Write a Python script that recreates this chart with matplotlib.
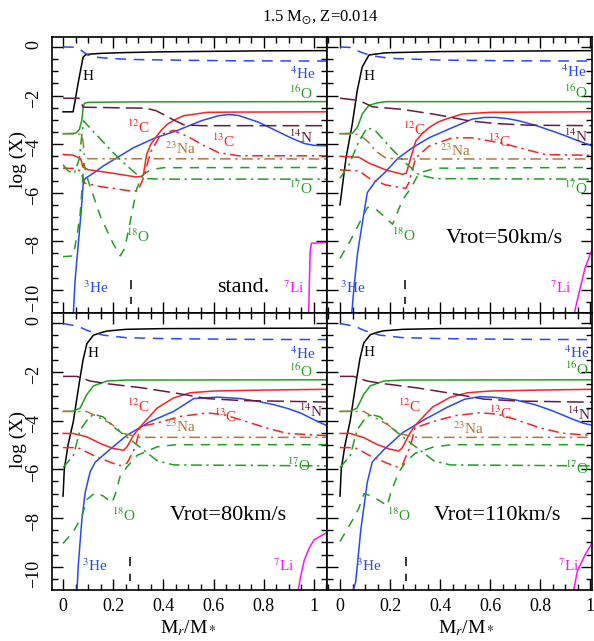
import numpy as np
import matplotlib
matplotlib.use("Agg")
import matplotlib.pyplot as plt
from matplotlib.ticker import MultipleLocator, FuncFormatter

plt.rcParams["font.family"] = ["Liberation Serif", "DejaVu Serif"]
plt.rcParams["mathtext.fontset"] = "stix"

# ── abundance profiles, log X vs Mr/M* ─────────────────────────
# standard model
STAND = {
    "H":    ([0, 0.04, 0.05, 0.06, 0.07, 0.08, 0.09, 0.11, 0.16, 0.25, 0.4, 0.6, 0.8, 1.05],
             [-2.67, -2.67, -2.1, -1.5, -0.95, -0.42, -0.32, -0.29, -0.26, -0.23, -0.2, -0.18, -0.16, -0.15]),
    "He4":  ([0, 0.05, 0.065, 0.08, 0.1, 0.13, 0.2, 0.3, 0.5, 0.7, 1.05],
             [0, -0.01, -0.08, -0.2, -0.33, -0.42, -0.48, -0.52, -0.55, -0.57, -0.58]),
    "He3":  ([0.04, 0.048, 0.06, 0.072, 0.081, 0.09, 0.12, 0.16, 0.207, 0.28, 0.368, 0.45, 0.55, 0.62, 0.66,
              0.7, 0.78, 0.85, 0.91, 0.96, 1.0, 1.05],
             [-11.2, -9.6, -8.2, -6.8, -5.54, -5.4, -5.2, -4.9, -4.61, -4.15, -3.74, -3.46, -3.04, -2.83, -2.78,
              -2.82, -3.1, -3.45, -3.75, -3.97, -4.05, -4.07]),
    "O16":  ([0, 0.05, 0.065, 0.075, 0.08, 0.085, 0.1, 0.3, 1.05],
             [-3.57, -3.55, -3.4, -3.0, -2.5, -2.32, -2.28, -2.26, -2.25]),
    "C12":  ([0, 0.04, 0.07, 0.08, 0.1, 0.2, 0.29, 0.31, 0.32, 0.333, 0.35, 0.368, 0.39, 0.415, 0.45, 0.481,
              0.575, 0.7, 1.05],
             [-4.43, -4.45, -4.6, -4.95, -5.05, -5.2, -5.35, -5.33, -5.27, -4.43, -4.0, -3.74, -3.45, -3.18, -2.97,
              -2.83, -2.69, -2.68, -2.67]),
    "C13":  ([0, 0.04, 0.07, 0.085, 0.15, 0.22, 0.28, 0.3, 0.32, 0.35, 0.39, 0.44, 0.5, 0.56, 0.62, 0.7, 1.05],
             [-4.99, -5.0, -5.1, -5.6, -5.75, -5.85, -5.95, -5.9, -5.4, -4.3, -3.6, -3.43, -3.7, -4.05, -4.35,
              -4.48, -4.48]),
    "N14":  ([0, 0.065, 0.08, 0.2, 0.33, 0.37, 0.4, 0.44, 0.48, 0.55, 1.05],
             [-2.11, -2.11, -2.48, -2.5, -2.52, -2.62, -2.78, -3.0, -3.2, -3.24, -3.24]),
    "Na23": ([0, 0.075, 0.08, 0.085, 0.1, 1.05],
             [-3.57, -3.6, -3.9, -4.5, -4.6, -4.61]),
    "O17":  ([0, 0.02, 0.045, 0.065, 0.075, 0.082, 0.1, 0.15, 0.2, 0.25, 0.3, 0.33, 0.4, 1.05],
             [-4.85, -5.1, -5.2, -4.6, -3.6, -3.04, -3.25, -3.8, -4.35, -4.85, -5.3, -5.42, -5.44, -5.44]),
    "O18":  ([0, 0.04, 0.055, 0.068, 0.078, 0.083, 0.1, 0.15, 0.2, 0.228, 0.245, 0.26, 0.275, 0.295, 0.32,
              0.35, 0.4, 1.05],
             [-8.63, -8.6, -7.8, -6.9, -5.5, -4.8, -5.5, -7.0, -8.1, -8.6, -8.3, -7.6, -6.8, -5.8, -5.25,
              -5.05, -4.97, -4.96]),
    "Li7":  ([0.978, 0.981, 0.985, 0.99, 1.05],
             [-11.5, -10.0, -8.4, -8.08, -8.05]),
}

# Vrot = 50 km/s
V50 = {
    "H":    ([0, 0.024, 0.049, 0.069, 0.089, 0.116, 0.183, 0.4, 0.7, 1.01],
             [-6.5, -4.57, -3.18, -1.79, -0.82, -0.33, -0.24, -0.19, -0.17, -0.15]),
    "He4":  ([0, 0.04, 0.08, 0.12, 0.2, 0.4, 0.7, 1.01],
             [0, -0.02, -0.2, -0.35, -0.47, -0.54, -0.57, -0.58]),
    "He3":  ([0.045, 0.055, 0.07, 0.09, 0.109, 0.14, 0.183, 0.23, 0.289, 0.356, 0.449, 0.529, 0.58, 0.623,
              0.67, 0.716, 0.78, 0.849, 0.9, 0.956, 1.01],
             [-11.2, -10.0, -8.5, -7.2, -6.0, -5.55, -5.13, -4.6, -4.15, -3.74, -3.32, -2.97, -2.9, -2.9,
              -2.95, -3.04, -3.22, -3.46, -3.65, -3.875, -4.08]),
    "O16":  ([0, 0.05, 0.07, 0.089, 0.116, 0.15, 0.183, 0.3, 1.01],
             [-3.57, -3.55, -3.3, -2.76, -2.4, -2.3, -2.25, -2.25, -2.25]),
    "C12":  ([0, 0.076, 0.116, 0.183, 0.249, 0.265, 0.283, 0.303, 0.33, 0.356, 0.39, 0.423, 0.489, 0.6, 1.01],
             [-4.5, -4.54, -4.78, -5.06, -5.24, -5.2, -4.57, -3.875, -3.55, -3.32, -3.1, -2.97, -2.76, -2.69,
              -2.67]),
    "C13":  ([0, 0.076, 0.116, 0.183, 0.263, 0.275, 0.303, 0.356, 0.449, 0.529, 0.649, 0.743, 0.823, 1.01],
             [-5.06, -5.1, -5.4, -5.68, -5.82, -5.6, -4.57, -4.08, -3.74, -3.74, -3.96, -4.22, -4.43, -4.46]),
    "N14":  ([0, 0.076, 0.129, 0.249, 0.383, 0.516, 0.62, 0.75, 1.01],
             [-2.11, -2.2, -2.46, -2.57, -2.78, -3.04, -3.15, -3.22, -3.24]),
    "Na23": ([0, 0.07, 0.09, 0.116, 0.143, 0.183, 0.23, 1.01],
             [-3.57, -3.6, -3.7, -3.94, -4.29, -4.57, -4.61, -4.61]),
    "O17":  ([0, 0.036, 0.076, 0.109, 0.143, 0.196, 0.263, 0.316, 0.38, 1.01],
             [-5.4, -4.85, -3.875, -3.32, -3.46, -4.08, -4.78, -5.26, -5.42, -5.44]),
    "O18":  ([0, 0.04, 0.08, 0.11, 0.14, 0.18, 0.21, 0.23, 0.25, 0.283, 0.316, 0.383, 1.01],
             [-8.7, -8.0, -7.2, -6.6, -6.65, -7.0, -7.3, -6.8, -6.3, -5.82, -5.19, -4.99, -4.96]),
    "Li7":  ([0.933, 0.945, 0.963, 0.98, 1.01],
             [-11.2, -10.6, -9.83, -9.1, -8.3]),
}

# Vrot = 80 km/s
V80 = {
    "H":    ([0, 0.005, 0.02, 0.041, 0.055, 0.068, 0.08, 0.095, 0.121, 0.15, 0.175, 0.25, 0.4, 0.7, 1.05],
             [-7.1, -6.0, -5.0, -4.04, -3.1, -2.24, -1.5, -0.85, -0.5, -0.4, -0.33, -0.26, -0.23, -0.22, -0.21]),
    "He4":  ([0, 0.041, 0.07, 0.095, 0.13, 0.161, 0.25, 0.4, 0.7, 1.05],
             [-0.02, -0.1, -0.18, -0.3, -0.42, -0.5, -0.6, -0.64, -0.67, -0.68]),
    "He3":  ([0.055, 0.061, 0.075, 0.088, 0.108, 0.128, 0.175, 0.255, 0.348, 0.441, 0.521, 0.615, 0.708, 0.78,
              0.841, 0.9, 0.948, 1.015, 1.05],
             [-11.1, -9.9, -8.07, -6.96, -6.1, -5.71, -5.29, -4.6, -4.04, -3.625, -3.1, -3.04, -3.1, -3.22,
              -3.35, -3.52, -3.7, -4.04, -4.2]),
    "O16":  ([0, 0.041, 0.068, 0.095, 0.121, 0.175, 0.25, 1.05],
             [-3.625, -3.62, -3.49, -2.93, -2.58, -2.38, -2.34, -2.33]),
    "C12":  ([0, 0.041, 0.095, 0.148, 0.201, 0.241, 0.255, 0.281, 0.308, 0.375, 0.441, 0.508, 0.6, 0.8, 1.05],
             [-4.53, -4.53, -4.67, -4.94, -5.15, -5.22, -5.08, -4.6, -4.25, -3.49, -3.07, -2.86, -2.79, -2.75,
              -2.72]),
    "C13":  ([0, 0.041, 0.068, 0.121, 0.188, 0.228, 0.255, 0.288, 0.308, 0.375, 0.468, 0.575, 0.641, 0.708,
              0.815, 0.895, 1.05],
             [-5.11, -5.11, -5.15, -5.43, -5.71, -5.85, -5.75, -5.1, -4.25, -4.1, -3.83, -3.69, -3.76, -3.97,
              -4.32, -4.53, -4.62]),
    "N14":  ([0, 0.055, 0.108, 0.175, 0.308, 0.441, 0.575, 0.708, 1.05],
             [-2.19, -2.19, -2.38, -2.49, -2.65, -2.86, -3.1, -3.18, -3.24]),
    "Na23": ([0, 0.095, 0.121, 0.188, 0.241, 0.308, 1.05],
             [-3.625, -3.63, -3.76, -4.11, -4.53, -4.69, -4.69]),
    "O17":  ([0, 0.041, 0.068, 0.095, 0.121, 0.16, 0.201, 0.255, 0.308, 0.375, 0.441, 1.05],
             [-5.93, -5.44, -4.4, -3.99, -3.74, -3.85, -4.26, -4.68, -5.1, -5.65, -5.82, -5.86]),
    "O18":  ([0, 0.041, 0.075, 0.095, 0.128, 0.161, 0.195, 0.208, 0.228, 0.255, 0.295, 0.375, 0.45, 1.05],
             [-9.04, -8.56, -7.93, -7.24, -6.96, -7.1, -7.38, -7.03, -6.27, -5.9, -5.43, -5.08, -4.99, -4.99]),
    "Li7":  ([0.933, 0.945, 0.961, 0.98, 1.0, 1.05],
             [-11.2, -10.5, -9.74, -9.25, -8.9, -8.6]),
}

# Vrot = 110 km/s
V110 = {
    "H":    ([0, 0.005, 0.02, 0.041, 0.055, 0.068, 0.08, 0.095, 0.121, 0.15, 0.175, 0.25, 0.4, 0.7, 1.01],
             [-7.1, -6.0, -5.0, -4.0, -3.05, -2.2, -1.45, -0.82, -0.48, -0.38, -0.32, -0.26, -0.23, -0.22, -0.21]),
    "He4":  ([0, 0.041, 0.07, 0.095, 0.13, 0.161, 0.25, 0.4, 0.7, 1.01],
             [-0.02, -0.1, -0.18, -0.3, -0.42, -0.5, -0.6, -0.64, -0.67, -0.68]),
    "He3":  ([0.049, 0.063, 0.083, 0.109, 0.129, 0.175, 0.25, 0.34, 0.43, 0.5, 0.56, 0.62, 0.7, 0.78,
              0.85, 0.92, 0.97, 1.01],
             [-11.1, -10.6, -8.5, -6.54, -5.7, -5.2, -4.5, -3.95, -3.45, -3.12, -3.02, -3.05, -3.15, -3.35,
              -3.6, -3.9, -4.1, -4.2]),
    "O16":  ([0, 0.041, 0.068, 0.095, 0.121, 0.175, 0.25, 1.01],
             [-3.625, -3.62, -3.49, -2.93, -2.58, -2.38, -2.34, -2.33]),
    "C12":  ([0, 0.041, 0.095, 0.148, 0.201, 0.236, 0.25, 0.275, 0.3, 0.37, 0.44, 0.51, 0.6, 0.8, 1.01],
             [-4.53, -4.53, -4.7, -4.98, -5.18, -5.25, -5.1, -4.6, -4.2, -3.45, -3.05, -2.86, -2.79, -2.75,
              -2.72]),
    "C13":  ([0, 0.041, 0.068, 0.121, 0.188, 0.228, 0.25, 0.28, 0.3, 0.37, 0.46, 0.56, 0.63, 0.7,
              0.8, 0.89, 1.01],
             [-5.11, -5.11, -5.15, -5.45, -5.75, -5.9, -5.8, -5.1, -4.3, -4.05, -3.8, -3.68, -3.74, -3.95,
              -4.3, -4.52, -4.62]),
    "N14":  ([0, 0.055, 0.108, 0.175, 0.308, 0.441, 0.575, 0.708, 1.01],
             [-2.19, -2.19, -2.38, -2.49, -2.66, -2.88, -3.12, -3.2, -3.25]),
    "Na23": ([0, 0.095, 0.121, 0.188, 0.241, 0.308, 1.01],
             [-3.625, -3.63, -3.78, -4.15, -4.55, -4.69, -4.69]),
    "O17":  ([0, 0.041, 0.068, 0.095, 0.121, 0.16, 0.201, 0.255, 0.308, 0.375, 0.441, 1.01],
             [-5.93, -5.44, -4.4, -3.99, -3.74, -3.85, -4.26, -4.7, -5.12, -5.65, -5.82, -5.86]),
    "O18":  ([0, 0.049, 0.075, 0.096, 0.129, 0.16, 0.189, 0.203, 0.236, 0.263, 0.3, 0.375, 0.45, 1.01],
             [-8.96, -8.1, -7.6, -7.0, -7.1, -7.3, -7.5, -6.95, -6.1, -5.7, -5.35, -5.08, -4.99, -4.99]),
    "Li7":  ([0.932, 0.95, 0.983, 1.01],
             [-11.1, -10.15, -9.46, -9.0]),
}

MODELS = [STAND, V50, V80, V110]
MODEL_TAGS = ["stand.", "Vrot=50km/s", "Vrot=80km/s", "Vrot=110km/s"]

# mass coordinate of the short dashed marker near the bottom of each panel
MARK_X = [0.27, 0.26, 0.268, 0.263]
MARK_Y = [-9.6, -10.6]

# ── styling ──────────────────────────────────────────────────────
BLUE, GREEN, RED = "#2848ff", "#20a020", "#ff2020"
MAROON, BROWN, MAGENTA = "#6a1a40", "#b8733a", "#ff10ff"

STYLE = {
    "H":    dict(color="black", ls="-"),
    "He4":  dict(color=BLUE, ls=(0, (7, 5))),
    "He3":  dict(color=BLUE, ls="-"),
    "O16":  dict(color=GREEN, ls="-"),
    "C12":  dict(color=RED, ls="-"),
    "C13":  dict(color=RED, ls=(0, (7, 3, 1.5, 3))),
    "N14":  dict(color=MAROON, ls=(0, (11, 4))),
    "Na23": dict(color=BROWN, ls=(0, (7, 3, 1.5, 3))),
    "O17":  dict(color=GREEN, ls=(0, (7, 3, 1.5, 3))),
    "O18":  dict(color=GREEN, ls=(0, (6, 5))),
    "Li7":  dict(color=MAGENTA, ls="-"),
}

LABEL_TEXT = {
    "H": "H", "He4": r"$^{4}$He", "O16": r"$^{16}$O", "C12": r"$^{12}$C", "C13": r"$^{13}$C",
    "Na23": r"$^{23}$Na", "N14": r"$^{14}$N", "O17": r"$^{17}$O", "O18": r"$^{18}$O",
    "He3": r"$^{3}$He", "Li7": r"$^{7}$Li",
}

LABEL_POS = [
    {"H": (0.10, -1.2), "He4": (0.955, -1.1), "O16": (0.95, -1.9), "C12": (0.30, -3.3),
     "C13": (0.64, -3.9), "Na23": (0.47, -4.2), "N14": (0.95, -3.7), "O17": (0.95, -5.8),
     "O18": (0.30, -7.8), "He3": (0.13, -9.9), "Li7": (0.92, -9.9), "tag": (0.72, -9.9)},
    {"H": (0.116, -1.2), "He4": (0.936, -1.02), "O16": (0.943, -1.85), "C12": (0.296, -3.4),
     "C13": (0.636, -3.875), "Na23": (0.463, -4.25), "N14": (0.943, -3.67), "O17": (0.943, -5.8),
     "O18": (0.256, -7.75), "He3": (0.05, -9.9), "Li7": (0.884, -9.9), "tag": (0.656, -7.9)},
    {"H": (0.121, -1.25), "He4": (0.955, -1.25), "O16": (0.95, -1.96), "C12": (0.301, -3.42),
     "C13": (0.647, -3.83), "Na23": (0.468, -4.25), "N14": (0.99, -3.625), "O17": (0.94, -5.85),
     "O18": (0.241, -7.9), "He3": (0.128, -9.96), "Li7": (0.88, -9.96), "tag": (0.66, -7.9)},
    {"H": (0.116, -1.2), "He4": (0.948, -1.2), "O16": (0.948, -1.9), "C12": (0.276, -3.4),
     "C13": (0.64, -3.7), "Na23": (0.516, -4.33), "N14": (0.955, -3.75), "O17": (0.948, -5.96),
     "O18": (0.236, -7.9), "He3": (0.116, -9.95), "Li7": (0.916, -9.95), "tag": (0.628, -7.9)},
]

W, H = 594, 641
# panel boxes in pixels: (left, right, top, bottom) and x limits
BOXES = [(52, 327, 37, 313), (327, 592, 37, 313), (52, 327, 313, 590), (327, 592, 313, 590)]
XLIMS = [(-0.044, 1.052), (-0.052, 1.008), (-0.044, 1.052), (-0.052, 1.008)]
YLIM = (-10.95, 0.41)


def fmt_x(v, pos):
    if abs(v) < 1e-9:
        return "0"
    if abs(v - 1) < 1e-9:
        return "1"
    return f"{v:.1f}"


def fmt_y(v, pos):
    return f"{int(round(v))}".replace("-", "\u2212")


fig = plt.figure(figsize=(W / 100, H / 100), dpi=100)

for i, (model, tag) in enumerate(zip(MODELS, MODEL_TAGS)):
    l, r, t, b = BOXES[i]
    ax = fig.add_axes([l / W, 1 - b / H, (r - l) / W, (b - t) / H])

    for key, (xs, ys) in model.items():
        ax.plot(xs, ys, lw=1.1, **STYLE[key])

    ax.plot([MARK_X[i], MARK_X[i]], MARK_Y, color="black", lw=1.1, ls=(0, (6, 5)))

    pos = LABEL_POS[i]
    for key, txt in LABEL_TEXT.items():
        x, y = pos[key]
        ax.text(x, y, txt, color=STYLE[key]["color"], fontsize=11,
                ha="center", va="center")
    ax.text(*pos["tag"], tag, fontsize=16, ha="center", va="center")

    ax.set_xlim(*XLIMS[i])
    ax.set_ylim(*YLIM)
    ax.xaxis.set_major_locator(MultipleLocator(0.2))
    ax.xaxis.set_minor_locator(MultipleLocator(0.05))
    ax.yaxis.set_major_locator(MultipleLocator(2))
    ax.yaxis.set_minor_locator(MultipleLocator(0.5))
    ax.xaxis.set_major_formatter(FuncFormatter(fmt_x))
    ax.yaxis.set_major_formatter(FuncFormatter(fmt_y))
    ax.tick_params(which="both", direction="in", top=True, right=True, width=1)
    ax.tick_params(which="major", length=8)
    ax.tick_params(which="minor", length=4.5)
    ax.tick_params(axis="x", labelsize=13, pad=6, labelbottom=(i >= 2))
    ax.tick_params(axis="y", labelsize=13, pad=7, labelrotation=90, labelleft=(i % 2 == 0))
    for s in ax.spines.values():
        s.set_linewidth(1.2)

fig.text(320 / W, 1 - 17 / H, r"1.5 M$_{\odot}$, Z=0.014", fontsize=12, ha="center", va="center")
for yc in (160, 440):
    fig.text(18 / W, 1 - yc / H, "log (X)", fontsize=14, rotation=90, ha="center", va="center")
for xc in (188, 466):
    fig.text(xc / W, 1 - 628 / H, r"M$_r$/M$_*$", fontsize=14, ha="center", va="center")

fig.savefig("out.png", dpi=100)
